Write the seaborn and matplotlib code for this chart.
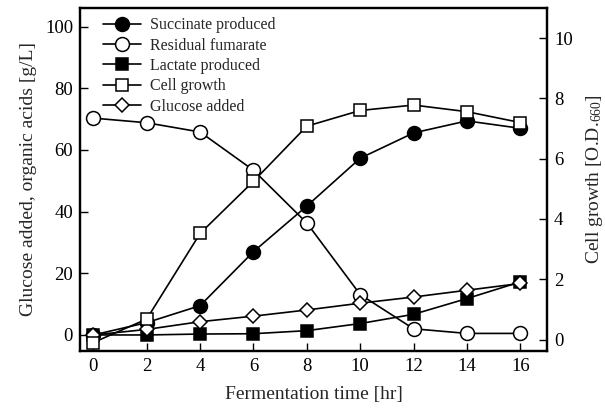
import matplotlib
matplotlib.use("Agg")
import matplotlib.pyplot as plt
import seaborn as sns
import pandas as pd

time_hr = [0, 2, 4, 6, 8, 10, 12, 14, 16]
succinate = [0, 4, 9.5, 27, 41.8, 57.3, 65.5, 69.4, 67.0]
fumarate = [70.3, 68.8, 65.8, 53.4, 36.3, 13.1, 2.0, 0.5, 0.5]
lactate = [0, 0, 0.3, 0.4, 1.4, 3.7, 6.7, 11.8, 17.2]
glucose = [0, 1.8, 4.3, 6.1, 8.1, 10.3, 12.3, 14.5, 16.7]
cell_growth = [-0.1, 0.68, 3.52, 5.25, 7.08, 7.6, 7.78, 7.56, 7.2]

df = pd.DataFrame({"time": time_hr, "succ": succinate, "fum": fumarate,
                   "lac": lactate, "glu": glucose, "cell": cell_growth})

sns.set_style("ticks")
plt.rcParams["font.family"] = ["Liberation Serif", "DejaVu Serif"]
plt.rcParams["mathtext.fontset"] = "custom"
plt.rcParams["mathtext.rm"] = "Liberation Serif"
plt.rcParams["mathtext.it"] = "Liberation Serif:italic"

fig = plt.figure(figsize=(6.05, 4.08), dpi=100)
ax = fig.add_axes([80/605, 1-351/408, 467/605, 343/408])
ax2 = ax.twinx()

lw = 1.2
common = dict(color="black", linewidth=lw, markeredgecolor="black", markeredgewidth=1.1)

sns.lineplot(data=df, x="time", y="succ", ax=ax, marker="o", markersize=10,
             markerfacecolor="black", label="Succinate produced", **common)
sns.lineplot(data=df, x="time", y="fum", ax=ax, marker="o", markersize=10,
             markerfacecolor="white", label="Residual fumarate", **common)
sns.lineplot(data=df, x="time", y="lac", ax=ax, marker="s", markersize=8.5,
             markerfacecolor="black", label="Lactate produced", **common)
sns.lineplot(data=df, x="time", y="glu", ax=ax, marker="D", markersize=7,
             markerfacecolor="white", label="Glucose added", **common)
sns.lineplot(data=df, x="time", y="cell", ax=ax2, marker="s", markersize=8.5,
             markerfacecolor="white", label="Cell growth", **common)

ax.set_xlim(-0.5, 17.0)
ax.set_ylim(-5.2, 106)
ax2.set_ylim(-0.38, 11.0)
ax.set_xticks(range(0, 17, 2))
ax.set_yticks(range(0, 101, 20))
ax2.set_yticks(range(0, 11, 2))

for a in (ax, ax2):
    a.tick_params(direction="in", length=6, width=1.0, labelsize=13.5, colors="black")
    for s in a.spines.values():
        s.set_linewidth(1.6)
        s.set_color("black")
ax.tick_params(axis="x", pad=5)
ax.tick_params(axis="y", pad=5)
ax2.tick_params(axis="y", pad=5)

ax.set_xlabel("Fermentation time [hr]", fontsize=14, labelpad=8)
ax.set_ylabel("Glucose added, organic acids [g/L]", fontsize=14, labelpad=6)
ax2.set_ylabel(r"Cell growth [O.D.$_{660}$]", fontsize=14, labelpad=8)

h1, l1 = ax.get_legend_handles_labels()
h2, l2 = ax2.get_legend_handles_labels()
ax.get_legend().remove()
ax2.get_legend().remove()
handles = [h1[0], h1[1], h1[2], h2[0], h1[3]]
labels = [l1[0], l1[1], l1[2], l2[0], l1[3]]
ax2.legend(handles, labels, loc="upper left", bbox_to_anchor=(0.049, 0.973),
           frameon=False, fontsize=11.5, borderpad=0, borderaxespad=0,
           handlelength=2.4, handletextpad=0.55, labelspacing=0.27)

fig.savefig("out.png", dpi=100)
